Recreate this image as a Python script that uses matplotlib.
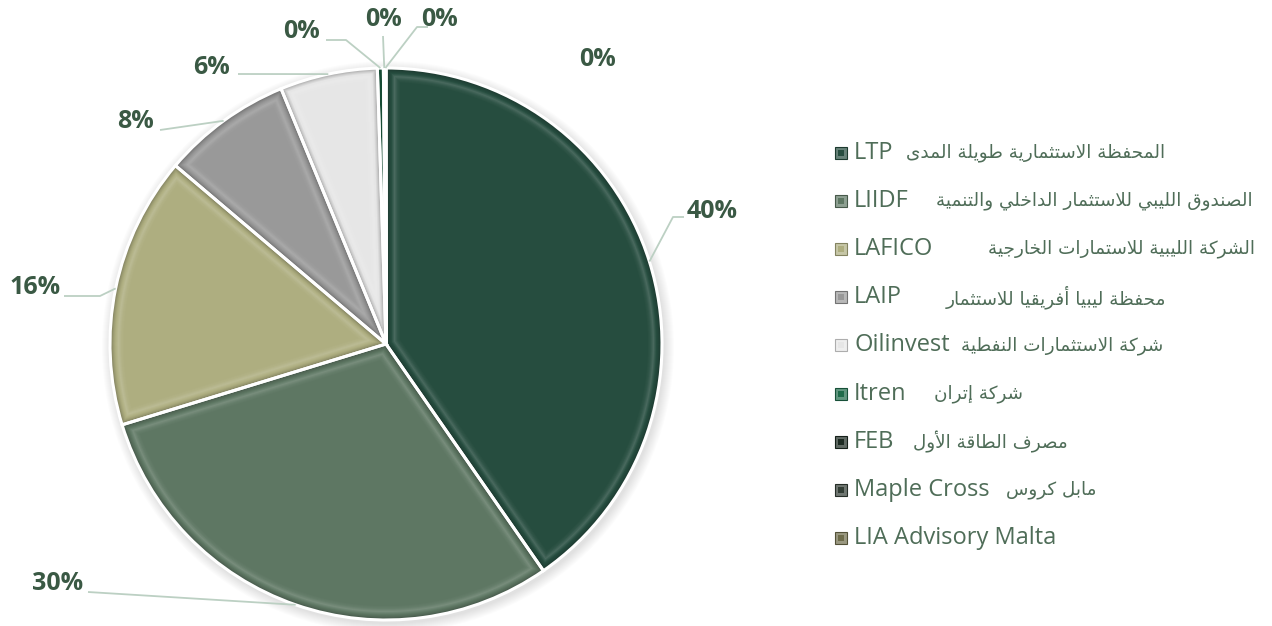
import numpy as np
import matplotlib
matplotlib.use("Agg")
import matplotlib.pyplot as plt
from matplotlib.patches import Polygon, Rectangle, Circle, Wedge

# ---------------- data ----------------
codes = ["LTP", "LIIDF", "LAFICO", "LAIP", "Oilinvest", "Itren", "FEB", "Maple Cross", "LIA Advisory Malta"]
arabic_names = [
    "المحفظة الاستثمارية طويلة المدى",
    "الصندوق الليبي للاستثمار الداخلي والتنمية",
    "الشركة الليبية للاستمارات الخارجية",
    "محفظة ليبيا أفريقيا للاستثمار",
    "شركة الاستثمارات النفطية",
    "شركة إتران",
    "مصرف الطاقة الأول",
    "مابل كروس",
    "",
]
shares = [40.3, 29.9, 15.9, 7.6, 5.7, 0.35, 0.1, 0.03, 0.02]
colors = ["#264d3f", "#5e7763", "#aeae80", "#999999", "#e6e6e6", "#1f6b4a", "#1c2a22", "#323d35", "#6e6c4b"]

# ---------------- Arabic shaping (presentation forms + visual order) ----------------
FORMS = {
    '\u0621': (0xFE80, 1), '\u0622': (0xFE81, 2), '\u0623': (0xFE83, 2), '\u0624': (0xFE85, 2),
    '\u0625': (0xFE87, 2), '\u0626': (0xFE89, 4), '\u0627': (0xFE8D, 2), '\u0628': (0xFE8F, 4),
    '\u0629': (0xFE93, 2), '\u062A': (0xFE95, 4), '\u062B': (0xFE99, 4), '\u062C': (0xFE9D, 4),
    '\u062D': (0xFEA1, 4), '\u062E': (0xFEA5, 4), '\u062F': (0xFEA9, 2), '\u0630': (0xFEAB, 2),
    '\u0631': (0xFEAD, 2), '\u0632': (0xFEAF, 2), '\u0633': (0xFEB1, 4), '\u0634': (0xFEB5, 4),
    '\u0635': (0xFEB9, 4), '\u0636': (0xFEBD, 4), '\u0637': (0xFEC1, 4), '\u0638': (0xFEC5, 4),
    '\u0639': (0xFEC9, 4), '\u063A': (0xFECD, 4), '\u0641': (0xFED1, 4), '\u0642': (0xFED5, 4),
    '\u0643': (0xFED9, 4), '\u0644': (0xFEDD, 4), '\u0645': (0xFEE1, 4), '\u0646': (0xFEE5, 4),
    '\u0647': (0xFEE9, 4), '\u0648': (0xFEED, 2), '\u0649': (0xFEEF, 2), '\u064A': (0xFEF1, 4),
}
LAM_ALEF = {'\u0622': 0xFEF5, '\u0623': 0xFEF7, '\u0625': 0xFEF9, '\u0627': 0xFEFB}


def shape_arabic(s):
    toks = []
    i = 0
    while i < len(s):
        c = s[i]
        if c == '\u0644' and i + 1 < len(s) and s[i + 1] in LAM_ALEF:
            toks.append(('LA', LAM_ALEF[s[i + 1]]))
            i += 2
        else:
            toks.append(('C', c))
            i += 1

    def joins_next(t):
        return t[0] == 'C' and t[1] in FORMS and FORMS[t[1]][1] == 4

    def is_ar(t):
        return t[0] == 'LA' or t[1] in FORMS

    out = []
    for k, t in enumerate(toks):
        prev = toks[k - 1] if k > 0 else None
        nxt = toks[k + 1] if k + 1 < len(toks) else None
        jp = prev is not None and joins_next(prev) and is_ar(t)
        if t[0] == 'LA':
            out.append(chr(t[1] + (1 if jp else 0)))
            continue
        c = t[1]
        if c not in FORMS:
            out.append(c)
            continue
        base, n = FORMS[c]
        jn = n == 4 and nxt is not None and is_ar(nxt)
        if n == 1:
            f = 0
        elif n == 2:
            f = 1 if jp else 0
        else:
            f = 3 if (jp and jn) else 1 if jp else 2 if jn else 0
        out.append(chr(base + f))
    return ''.join(reversed(out))


def blend(c, other, t):
    a = np.array(matplotlib.colors.to_rgb(c))
    b = np.array(matplotlib.colors.to_rgb(other))
    return tuple(a * (1 - t) + b * t)


def shade(c, t):
    return blend(c, "black", -t) if t < 0 else blend(c, "white", t)


# ---------------- figure ----------------
W, H = 1272, 626
fig = plt.figure(figsize=(W / 100, H / 100), dpi=100)
ax = fig.add_axes([0, 0, 1, 1])

def Y(y):
    return H - y

CX, CY, R = 386, Y(344), 276

# soft shadow
for k in range(10, 0, -1):
    ax.add_patch(Circle((CX + 2, CY - 3), R + k, facecolor="#000000", alpha=0.012, edgecolor="none", zorder=0))

wedges, _ = ax.pie(shares, colors=colors, startangle=90, counterclock=False,
                   center=(CX, CY), radius=R,
                   wedgeprops=dict(edgecolor="none", linewidth=0))


def inset_poly(t1, t2, d, n=120):
    if d <= 0:
        th = np.radians(np.linspace(t1, t2, n))
        return [(CX, CY)] + list(zip(CX + R * np.cos(th), CY + R * np.sin(th)))
    h = np.radians(t2 - t1) / 2
    delta = np.degrees(np.arcsin(min(1.0, d / (R - d))))
    if t2 - t1 <= 2 * delta + 1.0 or h >= np.pi / 2:
        return None
    bis = np.radians((t1 + t2) / 2)
    a = d / np.sin(h)
    apex = (CX + a * np.cos(bis), CY + a * np.sin(bis))
    th = np.radians(np.linspace(t1 + delta, t2 - delta, n))
    return [apex] + list(zip(CX + (R - d) * np.cos(th), CY + (R - d) * np.sin(th)))


# smooth bevel band: darker rim -> soft highlight -> flat face
bevel_d = np.arange(0, 15, 1.0)
bevel_t = np.interp(bevel_d, [0, 3, 8, 11, 14], [-0.30, -0.10, 0.16, 0.05, 0.0])
for w, col in zip(wedges, colors):
    for d, t in zip(bevel_d, bevel_t):
        pts = inset_poly(w.theta1, w.theta2, d)
        if pts is None:
            continue
        ax.add_patch(Polygon(pts, closed=True, facecolor=shade(col, t), edgecolor="none", zorder=2))

# separators
for w in wedges:
    ax.add_patch(Wedge((CX, CY), R, w.theta1, w.theta2, facecolor="none",
                       edgecolor="white", linewidth=2.2, zorder=3))

# ---------------- data labels ----------------
label_color = "#3a5944"
line_color = "#bcd0c3"
# (text centre, leader-line knots from the text side; None = no line)
label_layout = [
    ((712, 212), [(684, 217), (673, 217)]),
    ((58, 583), [(88, 592)]),
    ((35, 288), [(64, 296), (100, 296)]),
    ((135, 122), [(160, 130)]),
    ((212, 68), [(238, 74)]),
    ((302, 32), [(326, 40), (346, 40)]),
    ((383, 20), [(383, 36)]),
    ((440, 20), [(428, 27), (417, 27)]),
    ((598, 60), None),
]
for w, val, (txy, knots) in zip(wedges, shares, label_layout):
    mid = np.radians((w.theta1 + w.theta2) / 2)
    anchor = (CX + R * np.cos(mid), CY + R * np.sin(mid))
    ax.text(txy[0], Y(txy[1]), f"{round(val)}%", ha="center", va="center",
            fontsize=18, fontweight="bold", color=label_color,
            family=["Open Sans", "DejaVu Sans"], zorder=5)
    if knots:
        xs = [k[0] for k in knots] + [anchor[0]]
        ys = [Y(k[1]) for k in knots] + [anchor[1]]
        ax.plot(xs, ys, color=line_color, lw=1.3, zorder=4, solid_capstyle="butt")

# ---------------- legend ----------------
text_color = "#4f6d58"
leg_x = 835
leg_y0 = 153
leg_dy = 48.1
arabic_right = [1165, 1253, 1255, 1166, 1163, 1023, 1068, 1097, None]
for i, (code, ar, col) in enumerate(zip(codes, arabic_names, colors)):
    y = Y(leg_y0 + i * leg_dy)
    s = 12
    ax.add_patch(Rectangle((leg_x, y - s / 2), s, s, facecolor=blend(col, "white", 0.3),
                           edgecolor=blend(col, "black", 0.25), linewidth=0.8, zorder=5))
    ax.add_patch(Rectangle((leg_x + 3, y - s / 2 + 3), s - 6, s - 6, facecolor=col,
                           edgecolor="none", zorder=6))
    ax.text(854, y, code, ha="left", va="center", fontsize=17, color=text_color,
            family=["Open Sans", "DejaVu Sans"], zorder=5)
    if ar:
        ax.text(arabic_right[i], y, shape_arabic(ar), ha="right", va="center", fontsize=13.2,
                color=text_color, family=["DejaVu Sans"], zorder=5)

ax.set_xlim(0, W)
ax.set_ylim(0, H)
ax.set_aspect("equal")
ax.axis("off")
fig.savefig("out.png", dpi=100, facecolor="white")
